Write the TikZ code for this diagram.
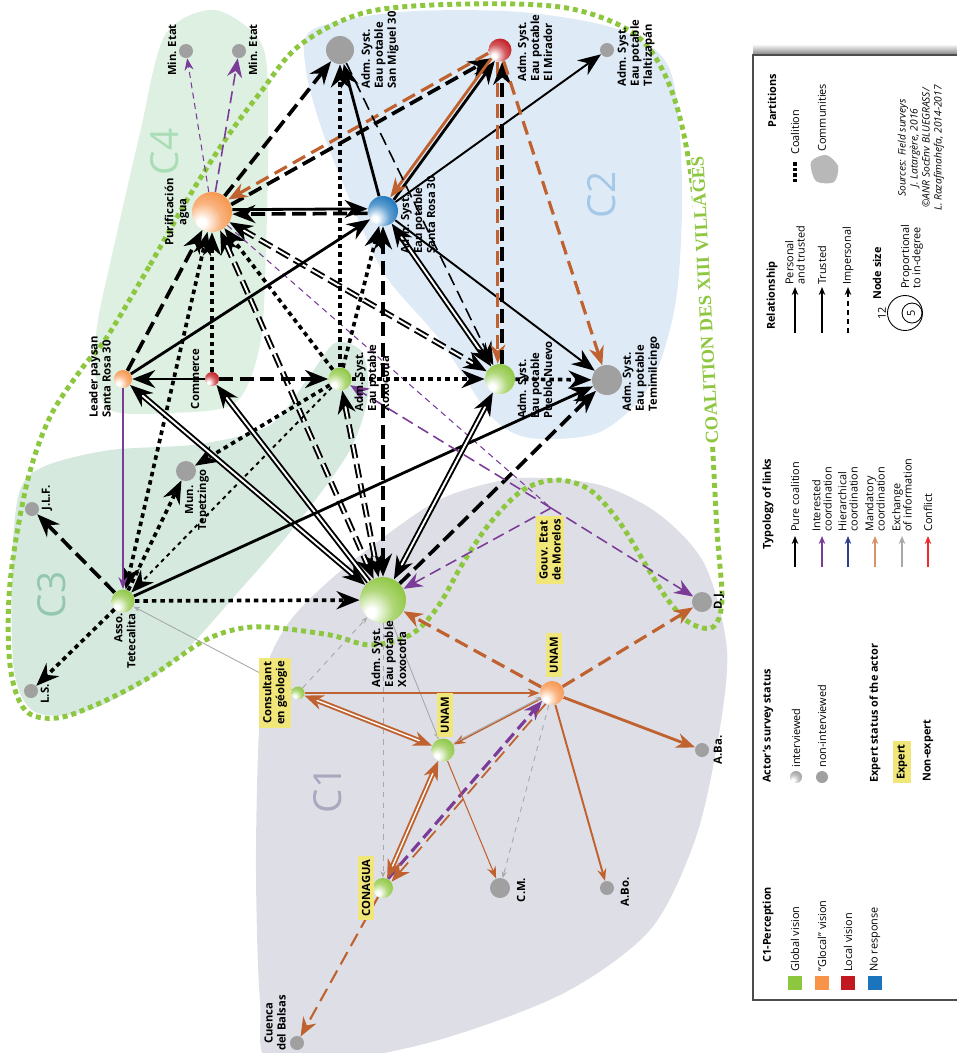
\documentclass[tikz,border=0pt]{standalone}
\usepackage{fontspec}
\setmainfont{Open Sans}
\newfontfamily\coalfont{Liberation Serif}
\usepackage{tikz}
\usetikzlibrary{arrows.meta, positioning, backgrounds, calc}
\definecolor{cGlobal}{HTML}{8DC63F}
\definecolor{cGlocal}{HTML}{F7944A}
\definecolor{cLocal}{HTML}{C1191F}
\definecolor{cNoResp}{HTML}{1C75BC}
\definecolor{cGrey}{HTML}{A0A0A0}
\definecolor{cExpert}{HTML}{F0E67A}
\definecolor{cMand}{HTML}{C0622F}
\definecolor{cMandL}{HTML}{D9916A}
\definecolor{cInter}{HTML}{7B3C98}
\definecolor{cHier}{HTML}{2E3F93}
\definecolor{cExch}{HTML}{A8A8A8}
\definecolor{cConf}{HTML}{EE2A2A}
\definecolor{cCoal}{HTML}{8DC63F}
\definecolor{cCfour}{HTML}{DDF0E2}
\definecolor{cCthree}{HTML}{D5E9DF}
\definecolor{cCtwo}{HTML}{DEEAF6}
\definecolor{cCone}{HTML}{DEDFE6}
\definecolor{cLfour}{HTML}{A9DDB6}
\definecolor{cLthree}{HTML}{93C7AE}
\definecolor{cLtwo}{HTML}{A4C8E8}
\definecolor{cLone}{HTML}{A8A9BE}
\colorlet{sphcol}{cGlobal}
\pgfdeclareradialshading[sphcol]{sphere}{\pgfqpoint{-14bp}{-14bp}}{color(0bp)=(white); color(5bp)=(white); color(22bp)=(sphcol!70!white); color(38bp)=(sphcol); color(100bp)=(sphcol)}
\newcommand\lblfont{\fontsize{6.4}{7.4}\selectfont\bfseries}
\newcommand\lgdfont{\fontsize{6.2}{6.4}\selectfont}
\pgfdeclarelayer{blobs}
\pgfdeclarelayer{links}
\pgfsetlayers{blobs,links,main}
\tikzset{
  BigTip/.tip={Stealth[length=4.6mm,width=3.6mm]},
  MidTip/.tip={Stealth[length=3.8mm,width=3mm]},
  SmlTip/.tip={Stealth[length=2.4mm,width=1.8mm]},
  TnyTip/.tip={Stealth[length=1.3mm,width=1mm]},
  sph/.code={\colorlet{sphcol}{#1}},
  actor/.style={circle, inner sep=0pt, minimum size=#1*0.4mm},
  glob/.style={actor=#1, sph=cGlobal, shading=sphere},
  gloc/.style={actor=#1, sph=cGlocal, shading=sphere},
  locv/.style={actor=#1, sph=cLocal, shading=sphere},
  nore/.style={actor=#1, sph=cNoResp, shading=sphere},
  nonint/.style={actor=#1, fill=cGrey},
  lbl/.style={rotate=90, font=\lblfont, align=left, inner sep=0pt},
  expert/.style={lbl, fill=cExpert, inner sep=2pt, align=center},
  clabel/.style={rotate=90, font=\fontsize{22}{22}\selectfont},
  coal/.style={cCoal, line width=2.8pt, dash pattern=on 1mm off 0.8mm},
  pure/.style={black, line width=1.6pt, -BigTip},
  pureth/.style={black, line width=1.1pt, -BigTip},
  imp/.style={black, line width=2.1pt, dash pattern=on 2.8mm off 1.3mm, -BigTip},
  impth/.style={black, line width=0.9pt, dash pattern=on 2.6mm off 1.3mm, -BigTip},
  dots/.style={black, line width=2.1pt, dash pattern=on 0.9mm off 0.8mm, -BigTip},
  dotsth/.style={black, line width=1.1pt, dash pattern=on 0.8mm off 0.8mm, -BigTip},
  pers/.style={black, line width=1.1pt, double=white, double distance=1.1pt, BigTip-BigTip},
  persdash/.style={pers, dash pattern=on 2.8mm off 1.2mm},
  mand/.style={cMand, line width=1.6pt, -MidTip},
  mandth/.style={cMand, line width=0.8pt, -SmlTip},
  manddash/.style={cMand, line width=1.8pt, dash pattern=on 2.8mm off 1.4mm, -MidTip},
  mandpers/.style={cMand, line width=1.1pt, double=white, double distance=0.8pt, MidTip-MidTip},
  inter/.style={cInter, line width=0.9pt, dash pattern=on 2.4mm off 1.2mm, -MidTip},
  interth/.style={cInter, line width=0.6pt, dash pattern=on 1.2mm off 0.9mm, -SmlTip},
  interln/.style={cInter, line width=0.9pt, -SmlTip},
  exch/.style={cExch, line width=0.5pt, -TnyTip},
  legframe/.style={draw=black!70, fill=white, line width=0.8pt},
  lgd/.style={rotate=90, anchor=west, font=\lgdfont, align=left, inner sep=0pt},
  lgdhead/.style={lgd, font=\lgdfont\bfseries},
  keysq/.style={minimum size=2.8mm, inner sep=0pt},
  keyarrow/.style={line width=0.8pt, -{Stealth[length=1.6mm,width=1.3mm]}},
  keycirc/.style={circle, draw, inner sep=0pt, line width=0.5pt}
}
\begin{document}
\begin{tikzpicture}[x=0.2mm, y=-0.2mm]
  \useasboundingbox (0,0) rectangle (956,1053);
  % actors
  \node[nonint=7] (me1) at (186,51) {};
  \node[nonint=7] (me2) at (239,51) {};
  \node[gloc=20] (pur) at (212,212) {};
  \node[nonint=14] (sm) at (340,50) {};
  \node[locv=11.5] (em) at (500,50) {};
  \node[nonint=7] (tl) at (607,50) {};
  \node[nore=15] (sr) at (383,211) {};
  \node[gloc=9] (lp) at (123,379) {};
  \node[locv=7] (com) at (212,379) {};
  \node[glob=11.5] (sx) at (340,379) {};
  \node[glob=15] (pn) at (500,379) {};
  \node[nonint=15] (tm) at (607,380) {};
  \node[nonint=10] (mun) at (186,471) {};
  \node[nonint=7] (jlf) at (32,509) {};
  \node[nonint=7] (ls) at (31,691) {};
  \node[glob=11.5] (at) at (123,601) {};
  \node[glob=23] (bx) at (383,600) {};
  \coordinate (gouv) at (551,508);
  \node[nonint=10] (dj) at (702,602) {};
  \node[gloc=12] (uo) at (552,693) {};
  \node[glob=6.5] (cg) at (298,693) {};
  \node[glob=11.5] (ug) at (443,750) {};
  \node[nonint=7] (aba) at (702,750) {};
  \node[glob=10] (cn) at (383,888) {};
  \node[nonint=10] (cm) at (500,888) {};
  \node[nonint=7] (abo) at (607,888) {};
  \node[nonint=7] (cue) at (297,1043) {};
  % labels
  \node[lbl] (t-me1) at (172,50) {Min. Etat};
  \node[lbl] (t-me2) at (253,50) {Min. Etat};
  \node[lbl, align=center] (t-pur) at (177,212) {Purificación\\agua};
  \node[lbl] (t-sm) at (380,50) {Adm. Syst.\\Eau potable\\San Miguel 30};
  \node[lbl] (t-em) at (535,48) {Adm. Syst.\\Eau potable\\El Mirador};
  \node[lbl] (t-tl) at (636,53) {Adm. Syst.\\Eau potable\\Tlaltizapán};
  \node[lbl] (t-sr) at (418,215) {Adm. Syst.\\Eau potable\\Santa Rosa 30};
  \node[lbl] (t-lp) at (100,377) {Leader paysan\\Santa Rosa 30};
  \node[lbl] (t-com) at (195,379) {Commerce};
  \node[lbl] (t-sx) at (372,378) {Adm. Syst.\\Eau potable\\Xoxocotla};
  \node[lbl] (t-pn) at (535,380) {Adm. Syst.\\Eau potable\\Pueblo Nuevo};
  \node[lbl] (t-tm) at (641,374) {Adm. Syst.\\Eau potable\\Temimilcingo};
  \node[lbl, align=center] (t-mun) at (197,500) {Mun.\\Tepetzingo};
  \node[lbl] (t-jlf) at (47,498) {J.L.F.};
  \node[lbl] (t-ls) at (45,694) {L.S.};
  \node[lbl, align=right] (t-at) at (125,641) {Asso.\\Tetecalita};
  \node[lbl] (t-bx) at (389,654) {Adm. Syst.\\Eau potable\\Xoxocotla};
  \node[expert] (t-gouv) at (550,550) {Gouv. Etat\\de Morelos};
  \node[expert] (t-uo) at (554,655) {UNAM};
  \node[lbl] (t-dj) at (719,600) {D.J.};
  \node[expert] (t-cg) at (275,693) {Consultant\\en géologie};
  \node[expert] (t-ug) at (445,715) {UNAM};
  \node[lbl] (t-aba) at (718,750) {A.Ba.};
  \node[expert] (t-cn) at (366,888) {CONAGUA};
  \node[lbl] (t-cm) at (521,890) {C.M.};
  \node[lbl] (t-abo) at (625,892) {A.Bo.};
  \node[lbl, align=center] (t-cue) at (275,1023) {Cuenca\\del Balsas};
  % communities and coalition
  \begin{pgfonlayer}{blobs}
    \fill[cCfour] plot[smooth cycle] coordinates {(215,10) (262,45) (268,120) (266,250) (260,345) (235,403) (170,413) (110,410) (95,370) (98,320) (117,233) (140,133) (165,35)};
    \fill[cCthree] plot[smooth cycle] coordinates {(20,490) (45,466) (110,450) (200,444) (270,425) (310,375) (335,343) (362,352) (368,395) (350,450) (300,520) (240,590) (170,665) (90,710) (35,712) (14,670) (12,560)};
    \fill[cCtwo] plot[smooth cycle] coordinates {(312,30) (400,12) (520,12) (620,30) (670,70) (682,180) (676,300) (650,385) (600,432) (530,438) (490,415) (440,340) (385,275) (350,200) (322,130) (306,70)};
    \fill[cCone] plot[smooth cycle] coordinates {(262,690) (285,628) (330,580) (400,525) (450,495) (520,478) (600,485) (660,515) (705,565) (727,650) (718,740) (695,840) (650,930) (560,995) (420,1045) (275,1065) (260,1000) (256,850)};
    \node[clabel, text=cLfour] (c4) at (165,152) {C4};
    \node[clabel, text=cLthree] (c3) at (52,595) {C3};
    \node[clabel, text=cLtwo] (c2) at (602,195) {C2};
    \node[clabel, text=cLone] (c1) at (328,790) {C1};
    \draw[coal] plot[smooth cycle, tension=0.55] coordinates {(107,337) (150,265) (187,200) (225,140) (260,93) (300,45) (367,12) (467,4) (567,8) (633,33) (665,75) (685,140) (700,250) (710,400) (717,530) (722,600) (713,627) (690,623) (668,600) (647,567) (620,523) (590,490) (557,480) (523,490) (490,523) (463,563) (437,608) (410,635) (370,645) (330,635) (267,627) (233,630) (200,643) (150,677) (100,703) (57,718) (25,710) (10,665) (10,583) (27,483) (50,417) (83,367)};
    \node[rotate=93, text=cCoal, fill=white, inner sep=0.6pt, font=\coalfont\bfseries\fontsize{10.5}{10.5}\selectfont] (coal-txt) at (705,300) {COALITION DES XIII VILLAGES};
  \end{pgfonlayer}
  % links
  \begin{pgfonlayer}{links}
    \draw[imp] (pur) -- (sm);
    \draw[imp, transform canvas={shift={(0.3mm,-0.5mm)}}] (pur) -- (em);
    \draw[manddash, transform canvas={shift={(-0.3mm,0.5mm)}}] (em) -- (pur);
    \draw[pure, transform canvas={yshift=0.45mm}] (pur) -- (sr);
    \draw[imp, transform canvas={yshift=-0.45mm}] (sr) -- (pur);
    \draw[imp] (lp) -- (pur);
    \draw[dots] (com) -- (pur);
    \draw[dots, BigTip-BigTip] (at) -- (pur);
    \draw[persdash] (pur) -- (bx);
    \draw[dots] (sx) -- (pur);
    \draw[persdash] (pur) -- (pn);
    \draw[interth] (pur) -- (me1);
    \draw[inter] (pur) -- (me2);
    \draw[interth, -] (pur) -- (gouv);
    \draw[pure] (sr) -- (sm);
    \draw[pure, transform canvas={shift={(0.35mm,-0.25mm)}}] (sr) -- (em);
    \draw[mand, transform canvas={shift={(-0.35mm,0.25mm)}}] (em) -- (sr);
    \draw[pureth] (sr) -- (tl);
    \draw[pers] (sr) -- (pn);
    \draw[pureth] (sr) -- (tm);
    \draw[imp, BigTip-BigTip] (sr) -- (bx);
    \draw[impth] (sm) -- (pn);
    \draw[dots] (sx) -- (sr);
    \draw[pure] (lp) -- (sr);
    \draw[manddash, transform canvas={xshift=-0.45mm}] (em) -- (pn);
    \draw[imp, transform canvas={xshift=0.45mm}] (pn) -- (em);
    \draw[manddash] (em) -- (tm);
    \draw[dots] (sx) -- (sm);
    \draw[imp] (com) -- (sx);
    \draw[dots] (sx) -- (pn);
    \draw[dots] (pn) -- (tm);
    \draw[dots] (sx) -- (mun);
    \draw[dotsth] (sx) -- (at);
    \draw[persdash] (sx) -- (bx);
    \draw[pureth] (com) -- (lp);
    \draw[interln] (lp) -- (at);
    \draw[pers] (lp) -- (bx);
    \draw[pers, -BigTip] (bx) -- (com);
    \draw[imp] (at) -- (jlf);
    \draw[dots] (at) -- (ls);
    \draw[dots] (at) -- (bx);
    \draw[pure] (at) -- (tm);
    \draw[dots] (at) -- (mun);
    \draw[pers] (bx) -- (pn);
    \draw[imp] (bx) -- (tm);
    \draw[inter] (gouv) -- (bx);
    \draw[inter] (gouv) -- (sx);
    \draw[inter] (gouv) -- (dj);
    \draw[manddash] (uo) -- (bx);
    \draw[exch, dashed] (cg) -- (bx);
    \draw[exch, dashed] (bx) -- (cn);
    \draw[exch] (bx) -- (ug);
    \draw[exch] (cg) -- (at);
    \draw[manddash] (uo) -- (dj);
    \draw[mand] (uo) -- (aba);
    \draw[mandth, line width=1.1pt] (uo) -- (abo);
    \draw[exch, dashed] (uo) -- (cm);
    \draw[mandth] (uo) -- (ug);
    \draw[exch, transform canvas={shift={(0.2mm,0.4mm)}}] (ug) -- (uo);
    \draw[mandth] (cg) -- (uo);
    \draw[inter, line width=1.8pt, transform canvas={shift={(-0.35mm,0.3mm)}}] (cn) -- (uo);
    \draw[manddash, line width=1pt, transform canvas={shift={(0.35mm,-0.3mm)}}] (uo) -- (cn);
    \draw[mandpers] (cg) -- (ug);
    \draw[mandpers] (ug) -- (cn);
    \draw[mandth, line width=0.6pt] (ug) -- (cm);
    \draw[manddash, line width=1.2pt] (cn) -- (cue);
  \end{pgfonlayer}
  % legend
  \shade[top color=white, bottom color=black!50] (753,44) rectangle (958,55);
  \draw[legframe] (753,55) rectangle (958,1000);
  \node[lgdhead] (h-perc) at (768,963) {C1-Perception};
  \node[lgdhead] (h-surv) at (768,783) {Actor's survey status};
  \node[lgdhead] (h-typo) at (768,550) {Typology of links};
  \node[lgdhead] (h-rel) at (772,330) {Relationship};
  \node[lgdhead] (h-part) at (772,128) {Partitions};
  \node[lgdhead] (h-size) at (877,300) {Node size};
  \node[lgdhead] (h-exp) at (875,783) {Expert status of the actor};
  \foreach \cx/\cc/\nm/\tx in {795/cGlobal/glob/Global vision, 822/cGlocal/gloc/"Glocal" vision, 848/cLocal/loc/Local vision, 875/cNoResp/nore/No response}{
    \node[keysq, fill=\cc] (k-\nm) at (\cx,983) {};
    \node[lgd] (k-\nm-t) at (\cx,972) {\tx};
  }
  \node[actor=6, sph=cGrey, shading=sphere] (k-int) at (796,777) {};
  \node[lgd] (k-int-t) at (796,768) {interviewed};
  \node[nonint=6] (k-non) at (822,777) {};
  \node[lgd] (k-non-t) at (822,768) {non-interviewed};
  \node[expert, font=\lgdfont\bfseries] (k-exp) at (902,762) {Expert};
  \node[lgdhead] (k-nonexp) at (928,782) {Non-expert};
  \foreach \cx/\cc/\nm in {795/black/pure, 822/cInter/inter, 848/cHier/hier, 875/cMandL/mand, 902/cExch/exch, 928/cConf/conf}{
    \coordinate (k-\nm-a) at (\cx,567);
    \coordinate (k-\nm-b) at (\cx,536);
    \draw[keyarrow, \cc] (k-\nm-a) -- (k-\nm-b);
  }
  \node[lgd] (k-pure-t) at (795,532) {Pure coalition};
  \node[lgd] (k-inter-t) at (822,532) {Interested\\coordination};
  \node[lgd] (k-hier-t) at (848,532) {Hierarchical\\coordination};
  \node[lgd] (k-mand-t) at (875,532) {Mandatory\\coordination};
  \node[lgd] (k-exch-t) at (902,532) {Exchange\\of information};
  \node[lgd] (k-conf-t) at (928,532) {Conflict};
  \coordinate (k-pt-a) at (795,333); \coordinate (k-pt-b) at (795,287);
  \coordinate (k-tr-a) at (822,333); \coordinate (k-tr-b) at (822,287);
  \coordinate (k-im-a) at (848,333); \coordinate (k-im-b) at (848,287);
  \draw[keyarrow, line width=1.1pt] (k-pt-a) -- (k-pt-b);
  \draw[keyarrow] (k-tr-a) -- (k-tr-b);
  \draw[keyarrow, dash pattern=on 1mm off 0.8mm] (k-im-a) -- (k-im-b);
  \node[lgd] (k-pt-t) at (795,285) {Personal\\and trusted};
  \node[lgd] (k-tr-t) at (822,285) {Trusted};
  \node[lgd] (k-im-t) at (848,285) {Impersonal};
  \node[keycirc, minimum size=7mm] (k-big) at (905,313) {};
  \node[keycirc, minimum size=4mm] (k-small) at (912,313) {};
  \node[lgd, anchor=center] (k-12) at (882,313) {12};
  \node[lgd, anchor=center] (k-5) at (911,313) {5};
  \node[lgd] (k-prop) at (912,289) {Proportional\\to in-degree};
  \coordinate (k-coal-a) at (795,182); \coordinate (k-coal-b) at (795,160);
  \draw[black, line width=2.2pt, dash pattern=on 0.7mm off 0.4mm] (k-coal-a) -- (k-coal-b);
  \node[lgd] (k-coal-t) at (795,155) {Coalition};
  \fill[black!28] plot[smooth cycle] coordinates {(811,162) (826,155) (838,166) (834,182) (816,181)};
  \node[lgd] (k-comm-t) at (822,152) {Communities};
  \node[lgd, anchor=center, align=center, font=\fontsize{5.8}{6.8}\selectfont\itshape] (k-src) at (921,148) {Sources: Field surveys\\J. Latargère, 2016\\©ANR SocEnv BLUEGRASS/\\L. Razafimahefa, 2014-2017};
\end{tikzpicture}
\end{document}
